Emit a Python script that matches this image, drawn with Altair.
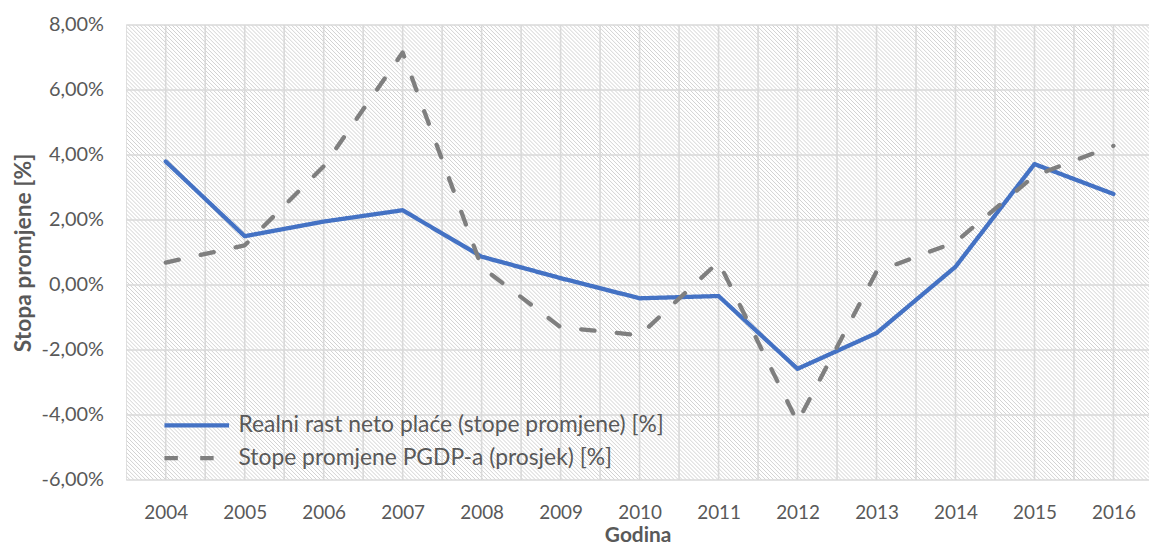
import altair as alt
import pandas as pd

# ---- data ----
years = list(range(2004, 2017))
wage_growth = [3.8, 1.5, 1.95, 2.3, 0.87, 0.21, -0.41, -0.34, -2.58, -1.48, 0.56, 3.72, 2.8]
pgdp_growth = [0.69, 1.22, 3.65, 7.15, 0.55, -1.3, -1.55, 0.71, -4.22, 0.41, 1.32, 3.36, 4.28]
series_names = ["Realni rast neto plaće (stope promjene) [%]",
                "Stope promjene PGDP-a (prosjek) [%]"]
y_ticks = [-6, -4, -2, 0, 2, 4, 6, 8]
x_title = "Godina"
y_title = "Stopa promjene [%]"

# ---- layout / style ----
W, H = 1029.5, 458
FONT = "Lato"
TXT = "#595959"
GRID = "#d9d9d9"
COLORS = ["#4472C4", "#7F7F7F"]

df = pd.DataFrame({
    "year": years * 2,
    "value": wage_growth + pgdp_growth,
    "series": [series_names[0]] * len(years) + [series_names[1]] * len(years),
})

x_scale = alt.Scale(domain=[years[0] - 0.5, years[-1] + 0.45], nice=False, zero=False)
y_scale = alt.Scale(domain=[y_ticks[0], y_ticks[-1]], nice=False, zero=False)

x_axis = alt.Axis(values=years, format="d", ticks=False, domain=False, grid=False,
                  labelFont=FONT, labelFontSize=19, labelColor=TXT, labelPadding=24,
                  title=x_title, titleFont=FONT, titleFontSize=21, titleFontWeight="bold",
                  titleColor=TXT, titlePadding=2)
y_axis = alt.Axis(values=y_ticks, ticks=False, domain=False, grid=False,
                  labelExpr="replace(replace(format(datum.value, '.2f'), '.', ','), '\u2212', '-') + '%'",
                  labelFont=FONT, labelFontSize=20, labelColor=TXT, labelPadding=23,
                  title=y_title, titleFont=FONT, titleFontSize=23, titleFontWeight="bold",
                  titleColor=TXT, titlePadding=6)

X = lambda: alt.X("year:Q", scale=x_scale, axis=x_axis)
Y = lambda: alt.Y("value:Q", scale=y_scale, axis=y_axis)

# grid lines at category centres and boundaries, and at y ticks
x_grid_vals = sorted(set([yr - 0.5 for yr in years] + years + [years[-1] + 0.5]))
xgrid = alt.Chart(pd.DataFrame({"year": x_grid_vals})).mark_rule(
    color=GRID, strokeWidth=1.6, clip=True).encode(x=X())
ygrid = alt.Chart(pd.DataFrame({"value": y_ticks})).mark_rule(
    color=GRID, strokeWidth=1.6).encode(y=Y())

lines = alt.Chart(df).mark_line(strokeWidth=4.3, strokeCap="round", strokeJoin="round").encode(
    x=X(), y=Y(),
    color=alt.Color("series:N", sort=series_names,
                    scale=alt.Scale(domain=series_names, range=COLORS),
                    legend=alt.Legend(title=None)),
    strokeDash=alt.StrokeDash("series:N", sort=series_names,
                              scale=alt.Scale(domain=series_names, range=[[1, 0], [13.5, 22.5]]),
                              legend=alt.Legend(title=None)),
)

inner = alt.layer(xgrid, ygrid, lines)

# diagonal hatch of the plot background (pixel space)
hatch = alt.Chart(alt.sequence(-H, W + 4, 4, as_="t")).transform_calculate(
    t2=f"datum.t + {H}", top=f"{H}", bot="0"
).mark_rule(color="#d2d2d2", strokeWidth=1, clip=True).encode(
    x=alt.X("t:Q", scale=alt.Scale(domain=[0, W], nice=False, zero=False), axis=None),
    x2="t2:Q",
    y=alt.Y("top:Q", scale=alt.Scale(domain=[0, H], nice=False, zero=False), axis=None),
    y2="bot:Q",
)

chart = alt.layer(hatch, inner).resolve_scale(
    x="independent", y="independent"
).properties(
    width=W, height=H,
    autosize=alt.AutoSizeParams(type="none"),
    padding={"left": 119, "top": 15.3, "right": 0, "bottom": 66.7},
).configure_view(stroke=None).configure_legend(
    orient="none", legendX=58, legendY=390, padding=0,
    symbolType="M-3,0H3", symbolSize=470, symbolStrokeWidth=4.3,
    labelFont=FONT, labelFontSize=23, labelColor=TXT, labelOffset=29,
    rowPadding=8, labelLimit=700,
)

chart.save("out.html", embed_options={"renderer": "svg", "actions": False})
